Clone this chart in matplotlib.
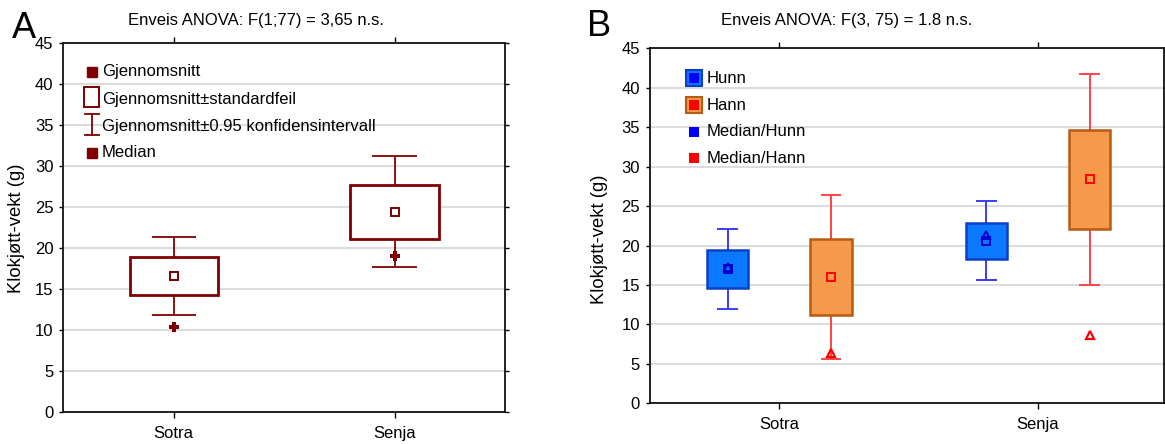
import matplotlib
matplotlib.use("Agg")
import matplotlib.pyplot as plt
from matplotlib.patches import Rectangle

plt.rcParams['font.family'] = ['Liberation Sans', 'DejaVu Sans']

# ---- data ----
groups = ["Sotra", "Senja"]
y_ticks = [0, 5, 10, 15, 20, 25, 30, 35, 40, 45]

# Panel A: whole sample
mean_all = [16.6, 24.4]
se_all = [2.3, 3.3]
ci_all = [4.75, 6.75]
median_all = [10.4, 19.0]

# Panel B: by sex
mean_hunn = [17.0, 20.6]
se_hunn = [2.4, 2.3]
ci_hunn = [5.1, 5.0]
median_hunn = [17.3, 21.3]

mean_hann = [16.0, 28.4]
se_hann = [4.8, 6.3]
ci_hann = [10.4, 13.4]
median_hann = [6.4, 8.7]

W, H, DPI = 1165, 444, 100
fig = plt.figure(figsize=(W / DPI, H / DPI), dpi=DPI)


def axes_px(left, top, right, bottom):
    return fig.add_axes([left / W, 1 - bottom / H, (right - left) / W, (bottom - top) / H])


def to_ax(ax, x, y):
    # pixel position in the figure -> axes fraction
    bb = ax.get_position()
    return ((x / W - bb.x0) / bb.width, ((1 - y / H) - bb.y0) / bb.height)


def style_axes(ax, xlim, label_px):
    ax.set_xlim(*xlim)
    ax.set_ylim(0, 45)
    ax.set_yticks(y_ticks)
    ax.set_xticks(range(len(groups)))
    ax.set_xticklabels(groups, fontsize=12)
    ax.tick_params(axis='y', labelsize=12, length=3, width=1, pad=4, direction='out',
                   right=True)
    ax.tick_params(axis='x', length=4, width=1, pad=6, direction='out', top=True)
    ax.yaxis.grid(True, color='#dcdcdc', linewidth=1.5, zorder=0)
    ax.set_axisbelow(True)
    for s in ax.spines.values():
        s.set_color('#111111')
        s.set_linewidth(1.3)
    ax.set_ylabel("Klokjøtt-vekt (g)", fontsize=13.3)
    ax.yaxis.set_label_coords(*to_ax(ax, *label_px))


def se_box(ax, x, m, se, ci, width, capw, face, edge, wcolor, lw_box, lw_wh, mcolor, msize):
    lo, hi = m - ci, m + ci
    ax.vlines(x, lo, hi, color=wcolor, linewidth=lw_wh, zorder=2)
    ax.hlines([lo, hi], x - capw / 2, x + capw / 2, color=wcolor, linewidth=lw_wh, zorder=2)
    ax.bar(x, 2 * se, bottom=m - se, width=width, color=face, edgecolor=edge,
           linewidth=lw_box, zorder=3)
    ax.plot(x, m, marker='s', markersize=msize, markerfacecolor='none',
            markeredgecolor=mcolor, markeredgewidth=1.4, zorder=4)


# ---------------- Panel A ----------------
dark = '#800000'
axA = axes_px(63.3, 42.7, 505, 412.3)
style_axes(axA, (-0.5, 1.5), (24.5, 228))
for i in range(len(groups)):
    se_box(axA, i, mean_all[i], se_all[i], ci_all[i], 0.4, 0.2,
           'white', dark, dark, 2.0, 1.3, dark, 5.5)
    axA.plot(i, median_all[i], marker='P', markersize=7, color=dark,
             markeredgewidth=0, zorder=4)

# legend A
lx = 92
rows_A = [71.7, 99, 126, 152.7]
labels_A = ["Gjennomsnitt", "Gjennomsnitt±standardfeil",
            "Gjennomsnitt±0.95 konfidensintervall", "Median"]
axA.plot(*to_ax(axA, lx, rows_A[0]), marker='s', markersize=7.5, color=dark,
         transform=axA.transAxes, clip_on=False)
x0, y0 = to_ax(axA, 84.3, 107.3)
x1, y1 = to_ax(axA, 99.3, 87.3)
axA.add_patch(Rectangle((x0, y0), x1 - x0, y1 - y0, transform=axA.transAxes,
                        facecolor='white', edgecolor=dark, linewidth=1.4, zorder=5))
xa, ya = to_ax(axA, lx, 114)
_, yb = to_ax(axA, lx, 134.7)
xc0, _ = to_ax(axA, 85.3, 0)
xc1, _ = to_ax(axA, 99.3, 0)
axA.plot([xa, xa], [ya, yb], color=dark, lw=1.3, transform=axA.transAxes, zorder=5)
axA.plot([xc0, xc1], [ya, ya], color=dark, lw=1.3, transform=axA.transAxes, zorder=5)
axA.plot([xc0, xc1], [yb, yb], color=dark, lw=1.3, transform=axA.transAxes, zorder=5)
axA.plot(*to_ax(axA, lx, rows_A[3]), marker='s', markersize=7.5, color=dark,
         transform=axA.transAxes, clip_on=False)
for y, t in zip(rows_A, labels_A):
    axA.text(*to_ax(axA, 102, y), t, transform=axA.transAxes, fontsize=12,
             va='center', ha='left', zorder=6)

fig.text(256 / W, 1 - 20 / H, "Enveis ANOVA: F(1;77) = 3,65 n.s.", fontsize=12,
         ha='center', va='center')
fig.text(23.5 / W, 1 - 28 / H, "A", fontsize=26, ha='center', va='center')

# ---------------- Panel B ----------------
blue_face, blue_edge, blue_wh, blue_mk = '#0a78ff', '#0c3fc8', '#3a3aff', '#0000d0'
or_face, or_edge, or_wh, or_mk = '#f59a4a', '#b85a10', '#ff4444', '#ff0000'

axB = axes_px(649.5, 48.3, 1164, 403.3)
style_axes(axB, (-0.502, 1.487), (607.5, 239))
off = 0.2
for i in range(len(groups)):
    se_box(axB, i - off, mean_hunn[i], se_hunn[i], ci_hunn[i], 0.16, 0.08,
           blue_face, blue_edge, blue_wh, 1.8, 1.4, blue_mk, 6)
    axB.plot(i - off, median_hunn[i], marker='^', markersize=6, markerfacecolor='none',
             markeredgecolor=blue_mk, markeredgewidth=1.4, zorder=4)
    se_box(axB, i + off, mean_hann[i], se_hann[i], ci_hann[i], 0.16, 0.08,
           or_face, or_edge, or_wh, 1.8, 1.4, or_mk, 6)
    axB.plot(i + off, median_hann[i], marker='^', markersize=6, markerfacecolor='none',
             markeredgecolor=or_mk, markeredgewidth=1.6, zorder=4)

# legend B
bx = 694.3
rows_B = [78.3, 105, 131.7, 158.5]
labels_B = ["Hunn", "Hann", "Median/Hunn", "Median/Hann"]
for y, fc, ec, inner in [(rows_B[0], blue_face, blue_edge, '#0000ff'),
                         (rows_B[1], or_face, or_edge, '#ff0000')]:
    axB.plot(*to_ax(axB, bx, y), marker='s', markersize=12, markerfacecolor=fc,
             markeredgecolor=ec, markeredgewidth=1.5, transform=axB.transAxes, zorder=5)
    axB.plot(*to_ax(axB, bx, y), marker='s', markersize=6.5, color=inner,
             markeredgewidth=0, transform=axB.transAxes, zorder=6)
axB.plot(*to_ax(axB, bx, rows_B[2]), marker='s', markersize=7.5, color='#0000ff',
         markeredgewidth=0, transform=axB.transAxes, zorder=6)
axB.plot(*to_ax(axB, bx, rows_B[3]), marker='s', markersize=7.5, color='#ff0000',
         markeredgewidth=0, transform=axB.transAxes, zorder=6)
for y, t in zip(rows_B, labels_B):
    axB.text(*to_ax(axB, 706.7, y), t, transform=axB.transAxes, fontsize=12,
             va='center', ha='left', zorder=6)

fig.text(847 / W, 1 - 20 / H, "Enveis ANOVA: F(3, 75) = 1.8 n.s.", fontsize=12,
         ha='center', va='center')
fig.text(599 / W, 1 - 27 / H, "B", fontsize=26, ha='center', va='center')

fig.savefig("out.png", dpi=DPI)
